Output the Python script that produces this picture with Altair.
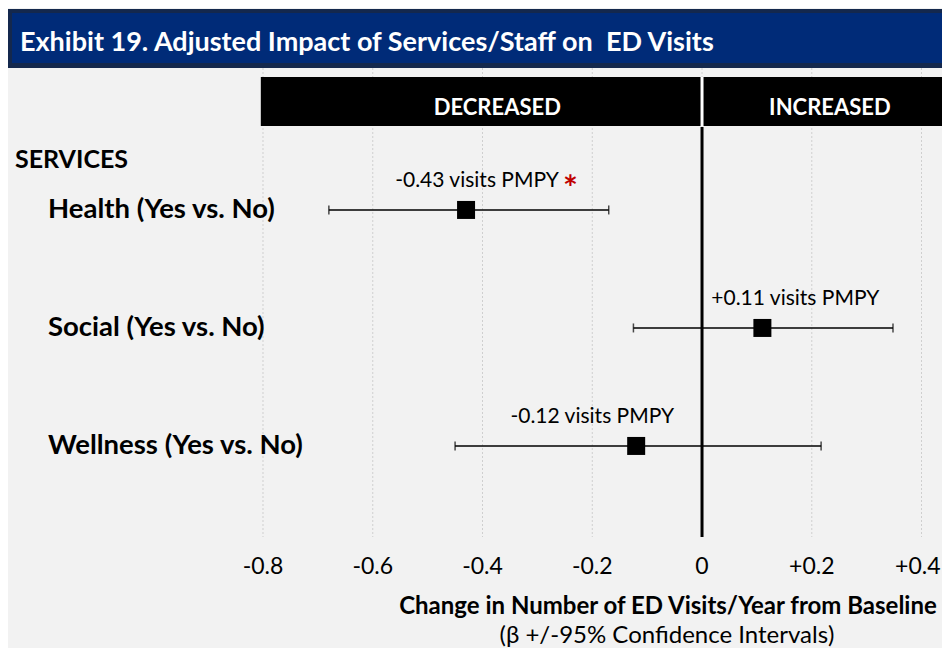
import altair as alt
import pandas as pd

# ---------------- data ----------------
services = ["Health (Yes vs. No)", "Social (Yes vs. No)", "Wellness (Yes vs. No)"]
row_index = [0, 1, 2]
estimates = [-0.43, 0.11, -0.12]
ci_low = [-0.68, -0.125, -0.45]
ci_high = [-0.17, 0.348, 0.217]
estimate_labels = ["-0.43 visits PMPY", "+0.11 visits PMPY", "-0.12 visits PMPY"]
label_anchor = [-0.41, 0.17, -0.20]
significance = ["*", "", ""]

tick_values = [-0.8, -0.6, -0.4, -0.2, 0, 0.2, 0.4]
tick_labels = ["-0.8", "-0.6", "-0.4", "-0.2", "0", "+0.2", "+0.4"]

header_labels = ["DECREASED", "INCREASED"]
header_start = [-0.804, 0.0]
header_end = [0.0, 0.4373]
header_label_x = [-0.373, 0.233]

title_text = "Exhibit 19. Adjusted Impact of Services/Staff on\u00a0 ED Visits"
section_label = "SERVICES"
axis_title = "Change in Number of ED Visits/Year from Baseline"
axis_subtitle = "(β +/-95% Confidence Intervals)"

# ---------------- tables ----------------
df = pd.DataFrame({
    "service": services, "row": row_index, "est": estimates,
    "lo": ci_low, "hi": ci_high, "lab": estimate_labels,
    "lab_x": label_anchor, "sig": significance,
})
ticks = pd.DataFrame({"v": tick_values, "t": tick_labels})
hdr = pd.DataFrame({"h": header_labels, "s": header_start, "e": header_end, "hx": header_label_x})
one = pd.DataFrame({"title": [title_text], "sec": [section_label],
                    "at": [axis_title], "ast": [axis_subtitle], "zero": [0.0]})

FONT = "Lato"
W = 934
XS = alt.Scale(domain=[-1.2647, 0.4373], nice=False, zero=False)
YS = alt.Scale(domain=[-1.186, 2.797], reverse=True, nice=False, zero=False)


def X(f):
    return alt.X(f, type="quantitative", scale=XS, axis=None)


def Y(f):
    return alt.Y(f, type="quantitative", scale=YS, axis=None)


base1 = alt.Chart(one)

banner_outer = base1.mark_rect(color="#14284d").encode(
    x=alt.value(0), x2=alt.value(W), y=alt.value(-61), y2=alt.value(-2))
banner_inner = base1.mark_rect(color="#002b78").encode(
    x=alt.value(4), x2=alt.value(W), y=alt.value(-57), y2=alt.value(-7))
banner_text = base1.mark_text(font=FONT, fontSize=27, fontWeight="bold", color="white",
                              align="left", baseline="middle").encode(
    x=alt.value(12), y=alt.value(-27), text="title:N")

grid = alt.Chart(ticks).mark_rule(color="#cfcfcf", strokeWidth=1, strokeDash=[2, 2]).encode(
    x=X("v"), y=alt.value(-2), y2=alt.value(467))

hdr_rect = alt.Chart(hdr).mark_rect(color="black").encode(
    x=X("s"), x2="e", y=alt.value(7), y2=alt.value(56))
hdr_sep = base1.mark_rule(color="white", strokeWidth=3).encode(
    x=X("zero"), y=alt.value(7), y2=alt.value(56))
hdr_text = alt.Chart(hdr).mark_text(font=FONT, fontSize=22, fontWeight="bold", color="white",
                                    baseline="middle").encode(
    x=X("hx"), y=alt.value(38), text="h:N")

zero_line = base1.mark_rule(color="black", strokeWidth=3).encode(
    x=X("zero"), y=alt.value(57), y2=alt.value(467))

base = alt.Chart(df)
err = base.mark_rule(color="black", strokeWidth=1.5).encode(x=X("lo"), x2="hi", y=Y("row"))
cap_lo = base.mark_tick(color="black", orient="vertical", size=9, thickness=1.5).encode(x=X("lo"), y=Y("row"))
cap_hi = base.mark_tick(color="black", orient="vertical", size=9, thickness=1.5).encode(x=X("hi"), y=Y("row"))
pts = base.mark_point(shape="square", filled=True, size=324, color="black", opacity=1).encode(
    x=X("est"), y=Y("row"))

est_text = base.mark_text(font=FONT, fontSize=21, color="black", baseline="middle", dy=-29).encode(
    x=X("lab_x"), y=Y("row"), text="lab:N")
star = base.mark_text(font=FONT, fontSize=35, fontWeight="bold", color="#c00000", align="left",
                      baseline="middle", dx=86, dy=-21).encode(
    x=X("lab_x"), y=Y("row"), text="sig:N")

cat_text = base.mark_text(font=FONT, fontSize=27.5, fontWeight="bold", color="black",
                          align="left", baseline="middle").encode(
    x=alt.value(40), y=Y("row"), text="service:N")
sec_text = base1.mark_text(font=FONT, fontSize=25, fontWeight="bold", color="black",
                           align="left", baseline="middle").encode(
    x=alt.value(7), y=alt.value(90), text="sec:N")

tick_text = alt.Chart(ticks).transform_filter("datum.v < 0.35").mark_text(
    font=FONT, fontSize=23, color="black", baseline="middle").encode(
    x=X("v"), y=alt.value(497), text="t:N")
tick_text_last = alt.Chart(ticks).transform_filter("datum.v >= 0.35").mark_text(
    font=FONT, fontSize=23, color="black", baseline="middle", align="right", dx=19).encode(
    x=X("v"), y=alt.value(497), text="t:N")
ax_title = base1.mark_text(font=FONT, fontSize=24, fontWeight="bold", color="black",
                           baseline="middle").encode(
    x=alt.value(660), y=alt.value(537), text="at:N")
ax_sub = base1.mark_text(font=FONT, fontSize=24, color="black", baseline="middle").encode(
    x=alt.value(659), y=alt.value(566), text="ast:N")

chart = alt.layer(
    banner_outer, banner_inner, banner_text, grid, hdr_rect, hdr_sep, hdr_text, zero_line,
    err, cap_lo, cap_hi, pts, est_text, star, cat_text, sec_text, tick_text, tick_text_last,
    ax_title, ax_sub
).properties(
    width=W, height=470,
    padding={"left": 0, "right": 0, "top": 62, "bottom": 108},
    autosize=alt.AutoSizeParams(type="none"),
    background="#f2f2f2",
).configure_view(stroke=None)

chart.save("out.html", embed_options={"renderer": "svg", "actions": False})
